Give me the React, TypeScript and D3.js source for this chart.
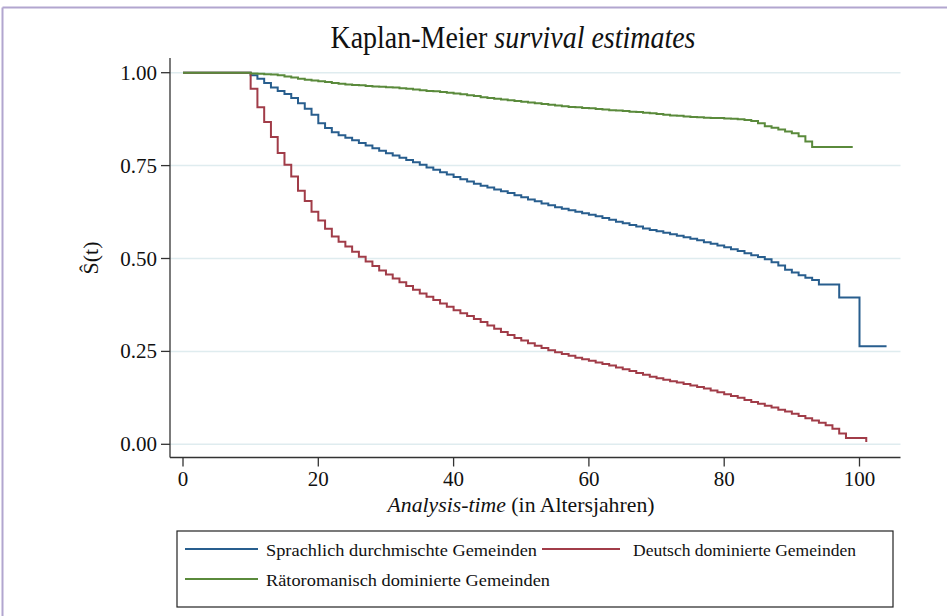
import React from "react";
import * as d3 from "d3";

const seriesNames = [
  "Sprachlich durchmischte Gemeinden",
  "Deutsch dominierte Gemeinden",
  "Rätoromanisch dominierte Gemeinden",
];

// Survival estimates at t = 0, 1, 2, ... (annual steps)
const survMixed = [
  1, 1, 1, 1, 1, 1, 1, 1, 1, 1,
  0.993, 0.984, 0.972, 0.960, 0.951, 0.943, 0.932, 0.918, 0.903, 0.887,
  0.864, 0.851, 0.840, 0.832, 0.825, 0.818, 0.811, 0.804, 0.797, 0.790,
  0.783, 0.777, 0.771, 0.765, 0.759, 0.752, 0.745, 0.739, 0.732, 0.726,
  0.719, 0.713, 0.707, 0.701, 0.696, 0.691, 0.686, 0.681, 0.676, 0.670,
  0.665, 0.659, 0.654, 0.648, 0.643, 0.638, 0.634, 0.630, 0.626, 0.622,
  0.618, 0.614, 0.609, 0.604, 0.599, 0.595, 0.590, 0.586, 0.581, 0.577,
  0.573, 0.569, 0.565, 0.561, 0.557, 0.553, 0.549, 0.544, 0.540, 0.535,
  0.530, 0.525, 0.520, 0.514, 0.509, 0.504, 0.498, 0.490, 0.481, 0.470,
  0.462, 0.455, 0.448, 0.442, 0.430, 0.430, 0.430, 0.395, 0.395, 0.395,
  0.264,
];
const endMixed = 104;

const survGerman = [
  1, 1, 1, 1, 1, 1, 1, 1, 1, 1,
  0.957, 0.907, 0.867, 0.827, 0.784, 0.752, 0.721, 0.682, 0.655, 0.626,
  0.602, 0.580, 0.559, 0.545, 0.532, 0.518, 0.505, 0.492, 0.480, 0.468,
  0.457, 0.446, 0.436, 0.426, 0.416, 0.406, 0.397, 0.388, 0.379, 0.370,
  0.361, 0.353, 0.345, 0.337, 0.329, 0.320, 0.311, 0.302, 0.294, 0.286,
  0.279, 0.272, 0.265, 0.259, 0.253, 0.248, 0.243, 0.238, 0.233, 0.229,
  0.225, 0.220, 0.216, 0.212, 0.207, 0.202, 0.197, 0.192, 0.187, 0.182,
  0.178, 0.174, 0.170, 0.166, 0.162, 0.158, 0.154, 0.150, 0.145, 0.140,
  0.135, 0.130, 0.125, 0.119, 0.114, 0.109, 0.104, 0.099, 0.093, 0.088,
  0.082, 0.076, 0.070, 0.064, 0.058, 0.051, 0.042, 0.029, 0.017, 0.017,
  0.017, 0.006,
];
const endGerman = 101;

const survRomansh = [
  1, 1, 1, 1, 1, 1, 1, 1, 1, 1,
  0.998, 0.997, 0.996, 0.995, 0.993, 0.990, 0.987, 0.984, 0.981, 0.979,
  0.977, 0.975, 0.972, 0.970, 0.968, 0.967, 0.966, 0.964, 0.963, 0.962,
  0.961, 0.960, 0.958, 0.957, 0.955, 0.953, 0.951, 0.950, 0.948, 0.946,
  0.944, 0.942, 0.939, 0.937, 0.934, 0.932, 0.930, 0.928, 0.926, 0.924,
  0.922, 0.920, 0.918, 0.916, 0.914, 0.912, 0.910, 0.908, 0.907, 0.905,
  0.904, 0.902, 0.901, 0.899, 0.898, 0.897, 0.895, 0.894, 0.892, 0.891,
  0.889, 0.887, 0.885, 0.884, 0.882, 0.881, 0.880, 0.879, 0.878, 0.878,
  0.877, 0.876, 0.875, 0.873, 0.870, 0.864, 0.856, 0.852, 0.847, 0.842,
  0.837, 0.829, 0.815, 0.800,
];
const endRomansh = 99;

const xTicks = [0, 20, 40, 60, 80, 100];
const yTicks = [0, 0.25, 0.5, 0.75, 1];

const colors = ["#285e8e", "#a13c48", "#5a8a3b"];
const FONT = "'Liberation Serif', 'Times New Roman', serif";

function toPoints(vals: number[], end: number): [number, number][] {
  const pts: [number, number][] = vals.map((v, i) => [i, v]);
  const last = pts[pts.length - 1];
  if (end > last[0]) pts.push([end, last[1]]);
  return pts;
}

export default function App() {
  const W = 947;
  const H = 616;
  const axL = 170;
  const axR = 900.5;
  const axTop = 58;
  const axBot = 457.5;

  const x = d3.scaleLinear().domain([0, 100]).range([183, 859.5]);
  const y = d3.scaleLinear().domain([0, 1]).range([444.3, 72.7]);

  const line = d3
    .line<[number, number]>()
    .x((d) => x(d[0]))
    .y((d) => y(d[1]))
    .curve(d3.curveStepAfter);

  const series = [
    { name: seriesNames[0], pts: toPoints(survMixed, endMixed), color: colors[0] },
    { name: seriesNames[1], pts: toPoints(survGerman, endGerman), color: colors[1] },
    { name: seriesNames[2], pts: toPoints(survRomansh, endRomansh), color: colors[2] },
  ];

  const fmt = d3.format(".2f");

  return (
    <div style={{ position: "absolute", left: 0, top: 0 }}>
      <svg width={W} height={H} style={{ display: "block", background: "#fff" }} fontFamily={FONT}>
        <rect x={0} y={0} width={W} height={H} fill="#fff" />
        {/* outer frame */}
        <line x1={2.5} y1={7.5} x2={W} y2={7.5} stroke="#b2a6cf" strokeWidth={2} />
        <line x1={2.5} y1={7.5} x2={2.5} y2={H} stroke="#b2a6cf" strokeWidth={2} />

        {/* title */}
        <text x={513} y={48} textAnchor="middle" fontSize={31} fill="#111" textLength={365} lengthAdjust="spacingAndGlyphs">
          Kaplan-Meier <tspan fontStyle="italic">survival estimates</tspan>
        </text>

        {/* grid */}
        {yTicks.map((t) => (
          <line key={"g" + t} x1={axL} x2={axR} y1={y(t)} y2={y(t)} stroke="#dfecef" strokeWidth={1.5} />
        ))}

        {/* axes */}
        <line x1={axL} x2={axL} y1={axTop} y2={axBot} stroke="#333" strokeWidth={1.3} />
        <line x1={axL} x2={axR} y1={axBot} y2={axBot} stroke="#333" strokeWidth={1.3} />

        {yTicks.map((t) => (
          <g key={"yt" + t}>
            <line x1={axL - 9} x2={axL} y1={y(t)} y2={y(t)} stroke="#333" strokeWidth={1.3} />
            <text x={157} y={y(t) + 7} textAnchor="end" fontSize={21} fill="#111">
              {fmt(t)}
            </text>
          </g>
        ))}
        {xTicks.map((t) => (
          <g key={"xt" + t}>
            <line x1={x(t)} x2={x(t)} y1={axBot} y2={axBot + 9} stroke="#333" strokeWidth={1.3} />
            <text x={x(t)} y={486} textAnchor="middle" fontSize={21} fill="#111">
              {t}
            </text>
          </g>
        ))}

        {/* axis titles */}
        <text x={521} y={512} textAnchor="middle" fontSize={21} fill="#111" textLength={267} lengthAdjust="spacingAndGlyphs">
          <tspan fontStyle="italic">Analysis-time</tspan> (in Altersjahren)
        </text>
        <text transform={`translate(98,258) rotate(-90)`} textAnchor="middle" fontSize={22} fill="#111">
          Ŝ(t)
        </text>

        {/* curves */}
        {series.map((s) => (
          <path key={s.name} d={line(s.pts) || ""} fill="none" stroke={s.color} strokeWidth={2} />
        ))}

        {/* legend */}
        <rect x={177} y={531} width={716} height={76} fill="#fff" stroke="#222" strokeWidth={1.2} />
        <line x1={185} x2={258} y1={549} y2={549} stroke={colors[0]} strokeWidth={2} />
        <text x={266} y={555.5} fontSize={17} fill="#111" textLength={271} lengthAdjust="spacingAndGlyphs">
          {seriesNames[0]}
        </text>
        <line x1={542} x2={620} y1={549} y2={549} stroke={colors[1]} strokeWidth={2} />
        <text x={633} y={555.5} fontSize={17} fill="#111" textLength={223} lengthAdjust="spacingAndGlyphs">
          {seriesNames[1]}
        </text>
        <line x1={185} x2={258} y1={579} y2={579} stroke={colors[2]} strokeWidth={2} />
        <text x={266} y={585.5} fontSize={17} fill="#111" textLength={284} lengthAdjust="spacingAndGlyphs">
          {seriesNames[2]}
        </text>
      </svg>
    </div>
  );
}
